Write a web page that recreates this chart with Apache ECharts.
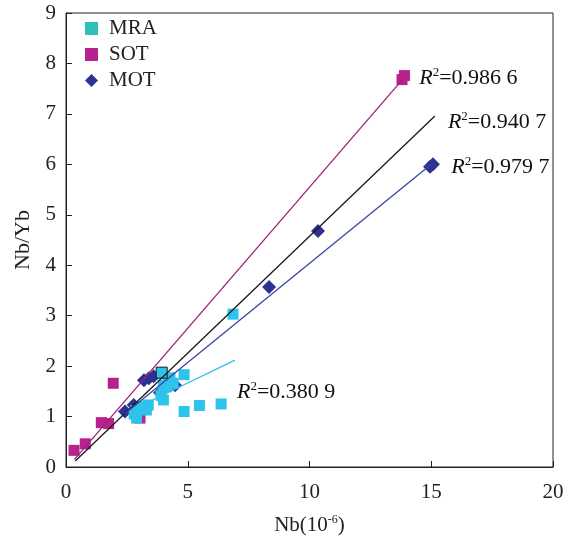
<!DOCTYPE html>
<html><head><meta charset="utf-8">
<script src="https://cdn.jsdelivr.net/npm/echarts@6/dist/echarts.min.js"></script>
<style>html,body{margin:0;padding:0;background:#fff}#c{width:578px;height:537px}</style>
</head><body><div id="c"></div>
<script>
var xTicks = [0, 5, 10, 15, 20];
var yTicks = [0, 1, 2, 3, 4, 5, 6, 7, 8, 9];
var seriesNames = ['MRA', 'SOT', 'MOT'];
var mraPoints = [[2.8,1.05],[2.9,0.97],[2.85,1.12],[3.1,1.15],[3.2,1.2],[3.38,1.23],[3.3,1.13],[4.0,1.33],[3.9,1.42],[4.13,1.59],[4.2,1.73],[4.27,1.77],[4.4,1.66],[4.0,1.62],[4.85,1.83],[4.85,1.1],[5.48,1.22],[6.37,1.25],[6.86,3.03],[3.93,1.87]];
var sotPoints = [[0.33,0.33],[0.79,0.46],[1.45,0.88],[1.75,0.86],[1.94,1.66],[3.04,0.97],[13.8,7.68],[13.9,7.76]];
var motPoints = [[2.42,1.1],[2.78,1.23],[3.2,1.72],[3.4,1.76],[3.6,1.8],[3.86,1.47],[4.48,1.62],[8.34,3.57],[10.35,4.68],[14.95,5.95],[15.07,6.0]];
var sotFit = [[0.35,0.15],[13.85,7.7]];
var allFit = [[0.38,0.12],[15.15,6.96]];
var motFit = [[2.4,1.05],[15.0,6.0]];
var mraFit = [[3.0,1.2],[6.94,2.12]];
var r2Labels = ['0.986 6', '0.940 7', '0.979 7', '0.380 9'];

var FONT = 'Liberation Serif';
var chart = echarts.init(document.getElementById('c'));
function r2(v){ return '{r|R}{s|2}{t|=' + v + '}'; }
var rich = {
  r:{fontFamily:FONT,fontStyle:'italic',fontSize:22,color:'#111'},
  s:{fontFamily:FONT,fontSize:13,color:'#111',verticalAlign:'top',padding:[0,0,11,0]},
  t:{fontFamily:FONT,fontSize:22,color:'#111'}
};
function fitLine(data, color, width, label, offset){
  return {type:'line', data:data, showSymbol:false, symbol:'none', z:5, silent:true,
    lineStyle:{color:color,width:width},
    endLabel:{show:true, formatter:r2(label), rich:rich, offset:offset}};
}
var mraData = mraPoints.map(function(p, i){
  if (i === mraPoints.length - 1) return {value:p, itemStyle:{borderColor:'#1a1a1a', borderWidth:1}};
  return p;
});
chart.setOption({
  animation:false,
  grid:{left:66, right:25, top:13, bottom:70, containLabel:false, outerBoundsMode:'none', show:true, borderColor:'#222', borderWidth:1},
  legend:{
    orient:'vertical', left:80, top:13, itemGap:5, itemWidth:13, itemHeight:13,
    textStyle:{fontFamily:FONT, fontSize:21, color:'#222', padding:[0,0,0,6]},
    data:[
      {name:'MRA', icon:'rect', itemStyle:{color:'#2fc1b8'}},
      {name:'SOT', icon:'rect', itemStyle:{color:'#b8228e'}},
      {name:'MOT', icon:'diamond', itemStyle:{color:'#2e3192'}}
    ]
  },
  xAxis:{type:'value', min:xTicks[0], max:xTicks[xTicks.length-1], interval:5,
    name:'{a|Nb(10}{b|-6}{a|)}', nameLocation:'middle', nameGap:47,
    nameTextStyle:{rich:{a:{fontFamily:FONT,fontSize:21,color:'#222'},b:{fontFamily:FONT,fontSize:12,color:'#222',verticalAlign:'top',padding:[0,0,10,0]}}},
    axisLine:{lineStyle:{color:'#222'}}, axisTick:{inside:true, length:6, lineStyle:{color:'#222'}},
    axisLabel:{margin:15, fontFamily:FONT, fontSize:21, color:'#222'},
    splitLine:{show:false}},
  yAxis:{type:'value', min:yTicks[0], max:yTicks[yTicks.length-1], interval:1,
    name:'Nb/Yb', nameLocation:'middle', nameGap:32, nameRotate:90,
    nameTextStyle:{fontFamily:FONT, fontSize:22, color:'#222'},
    axisLine:{lineStyle:{color:'#222'}}, axisTick:{inside:true, length:6, lineStyle:{color:'#222'}},
    axisLabel:{margin:10, fontFamily:FONT, fontSize:21, color:'#222'},
    splitLine:{show:false}},
  series:[
    {name:'MRA', type:'scatter', symbol:'rect', symbolSize:11, data:mraData, itemStyle:{color:'#2ec3ea', opacity:1}, z:3},
    {name:'SOT', type:'scatter', symbol:'rect', symbolSize:11, data:sotPoints, itemStyle:{color:'#b8228e', opacity:1}, z:2},
    {name:'MOT', type:'scatter', symbol:'diamond', symbolSize:14, data:motPoints, itemStyle:{color:'#2e3192', opacity:1}, z:2},
    fitLine(sotFit, '#a01f78', 1.3, r2Labels[0], [8,0]),
    fitLine(allFit, '#1a1a1a', 1.3, r2Labels[1], [5,6]),
    fitLine(motFit, '#3a45a3', 1.3, r2Labels[2], [12,3]),
    fitLine(mraFit, '#2ec3ea', 1.3, r2Labels[3], [-6,32])
  ]
});
</script></body></html>
